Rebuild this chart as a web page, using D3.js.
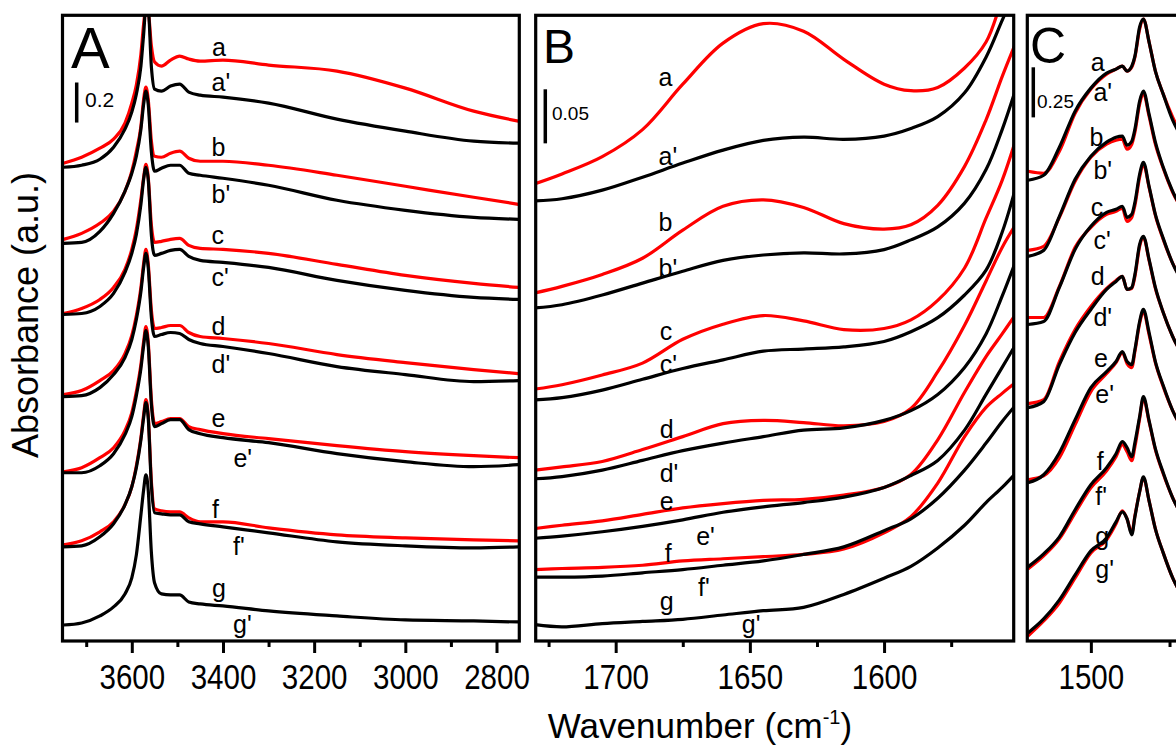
<!DOCTYPE html>
<html>
<head>
<meta charset="utf-8">
<script src="https://cdn.jsdelivr.net/npm/d3@7"></script>
<style>
  body { margin: 0; background: #fff; }
  svg text { font-family: "Liberation Sans", Arial, sans-serif; fill: #000; }
  .tick line { stroke: #000; stroke-width: 3; }
  .tick text { font-size: 36px; }
  .domain { display: none; }
</style>
</head>
<body>
<div id="chart"></div>
<script>
// wavenumbers (cm-1) sampled for each panel
var wnA = [3750, 3710, 3670, 3640, 3615, 3600, 3590, 3580, 3574, 3569, 3564, 3557, 3550, 3535, 3515, 3495, 3475, 3450, 3400, 3300, 3150, 3000, 2850, 2752];
var wnB = [1730, 1720, 1705, 1690, 1675, 1660, 1645, 1630, 1615, 1600, 1590, 1580, 1570, 1562, 1556, 1551];
var wnC = [1520, 1515, 1510, 1505, 1500, 1495, 1492, 1490, 1488.5, 1487, 1486, 1484.5, 1483.3, 1481.5, 1479.5, 1477, 1474, 1470];

// panel A, absorbance (stacked)
var A_a  = [2.39, 2.42, 2.465, 2.51, 2.59, 2.69, 2.78, 2.935, 3.085, 3.17, 3.15, 2.975, 2.895, 2.875, 2.905, 2.925, 2.91, 2.90, 2.905, 2.88, 2.85, 2.765, 2.65, 2.60];
var A_a1 = [2.37, 2.38, 2.41, 2.47, 2.56, 2.645, 2.735, 2.875, 3.035, 3.17, 3.16, 2.87, 2.76, 2.75, 2.775, 2.785, 2.745, 2.73, 2.72, 2.69, 2.61, 2.55, 2.50, 2.49];
var A_b  = [2.01, 2.04, 2.09, 2.15, 2.25, 2.35, 2.45, 2.575, 2.71, 2.77, 2.71, 2.50, 2.425, 2.42, 2.44, 2.45, 2.415, 2.40, 2.40, 2.38, 2.33, 2.275, 2.22, 2.185];
var A_b1 = [1.99, 1.995, 2.05, 2.14, 2.25, 2.34, 2.425, 2.56, 2.685, 2.75, 2.685, 2.445, 2.35, 2.365, 2.38, 2.38, 2.34, 2.33, 2.315, 2.28, 2.205, 2.155, 2.12, 2.11];
var A_c  = [1.64, 1.665, 1.71, 1.77, 1.86, 1.96, 2.06, 2.21, 2.32, 2.385, 2.32, 2.08, 1.995, 2.00, 2.01, 2.015, 1.98, 1.965, 1.96, 1.94, 1.885, 1.83, 1.79, 1.77];
var A_c1 = [1.635, 1.64, 1.675, 1.74, 1.845, 1.94, 2.035, 2.185, 2.31, 2.37, 2.31, 2.03, 1.93, 1.94, 1.955, 1.96, 1.925, 1.905, 1.895, 1.87, 1.805, 1.755, 1.72, 1.71];
var A_d  = [1.235, 1.255, 1.305, 1.355, 1.44, 1.53, 1.63, 1.77, 1.89, 1.96, 1.89, 1.655, 1.565, 1.57, 1.58, 1.58, 1.545, 1.525, 1.515, 1.49, 1.435, 1.395, 1.36, 1.34];
var A_d1 = [1.225, 1.23, 1.27, 1.335, 1.42, 1.51, 1.61, 1.75, 1.87, 1.94, 1.87, 1.62, 1.525, 1.535, 1.545, 1.54, 1.51, 1.49, 1.475, 1.44, 1.375, 1.335, 1.30, 1.305];
var A_e  = [0.85, 0.87, 0.92, 0.97, 1.055, 1.145, 1.25, 1.385, 1.50, 1.575, 1.50, 1.21, 1.09, 1.10, 1.115, 1.115, 1.075, 1.06, 1.04, 1.015, 0.98, 0.95, 0.93, 0.92];
var A_e1 = [0.845, 0.845, 0.88, 0.94, 1.035, 1.125, 1.23, 1.365, 1.48, 1.555, 1.48, 1.185, 1.075, 1.09, 1.11, 1.11, 1.06, 1.04, 1.02, 0.995, 0.94, 0.90, 0.875, 0.885];
var A_f  = [0.485, 0.505, 0.55, 0.60, 0.685, 0.775, 0.88, 1.02, 1.135, 1.21, 1.135, 0.80, 0.665, 0.655, 0.65, 0.65, 0.62, 0.60, 0.60, 0.57, 0.535, 0.52, 0.51, 0.505];
var A_f1 = [0.475, 0.48, 0.525, 0.59, 0.685, 0.775, 0.87, 1.01, 1.12, 1.195, 1.12, 0.78, 0.645, 0.64, 0.635, 0.635, 0.60, 0.59, 0.575, 0.545, 0.50, 0.48, 0.47, 0.475];
var A_g1 = [0.085, 0.095, 0.13, 0.175, 0.24, 0.32, 0.435, 0.635, 0.76, 0.835, 0.76, 0.445, 0.295, 0.24, 0.235, 0.235, 0.20, 0.19, 0.18, 0.155, 0.13, 0.11, 0.105, 0.10];

// panel B
var B_a  = [0.424, 0.433, 0.449, 0.474, 0.516, 0.554, 0.572, 0.565, 0.539, 0.516, 0.510, 0.513, 0.531, 0.555, 0.594, 0.622];
var B_a1 = [0.408, 0.410, 0.418, 0.430, 0.443, 0.455, 0.464, 0.467, 0.465, 0.468, 0.475, 0.486, 0.508, 0.541, 0.575, 0.603];
var B_b  = [0.323, 0.329, 0.340, 0.355, 0.381, 0.403, 0.409, 0.402, 0.387, 0.382, 0.386, 0.404, 0.440, 0.483, 0.523, 0.554];
var B_b1 = [0.309, 0.312, 0.321, 0.332, 0.343, 0.353, 0.358, 0.360, 0.359, 0.363, 0.372, 0.384, 0.406, 0.437, 0.474, 0.511];
var B_c  = [0.234, 0.238, 0.247, 0.258, 0.280, 0.294, 0.302, 0.297, 0.289, 0.290, 0.298, 0.316, 0.346, 0.392, 0.427, 0.464];
var B_c1 = [0.224, 0.226, 0.233, 0.243, 0.253, 0.261, 0.269, 0.271, 0.273, 0.278, 0.287, 0.300, 0.321, 0.344, 0.379, 0.420];
var B_d  = [0.159, 0.162, 0.167, 0.178, 0.190, 0.202, 0.205, 0.203, 0.200, 0.204, 0.216, 0.250, 0.293, 0.334, 0.365, 0.386];
var B_d1 = [0.151, 0.153, 0.159, 0.168, 0.177, 0.184, 0.190, 0.196, 0.198, 0.205, 0.214, 0.229, 0.254, 0.285, 0.320, 0.352];
var B_e  = [0.105, 0.108, 0.112, 0.118, 0.124, 0.128, 0.131, 0.132, 0.136, 0.143, 0.155, 0.187, 0.231, 0.264, 0.285, 0.303];
var B_e1 = [0.096, 0.098, 0.102, 0.107, 0.113, 0.120, 0.125, 0.129, 0.134, 0.143, 0.154, 0.168, 0.196, 0.229, 0.254, 0.275];
var B_f  = [0.067, 0.068, 0.069, 0.071, 0.075, 0.077, 0.079, 0.081, 0.086, 0.101, 0.116, 0.147, 0.190, 0.217, 0.230, 0.240];
var B_f1 = [0.060, 0.060, 0.061, 0.064, 0.067, 0.071, 0.075, 0.081, 0.088, 0.103, 0.114, 0.133, 0.159, 0.184, 0.204, 0.219];
var B_g1 = [0.016, 0.014, 0.017, 0.019, 0.021, 0.025, 0.029, 0.032, 0.044, 0.059, 0.070, 0.087, 0.108, 0.129, 0.143, 0.156];

// panel C
var C_a  = [2.35, 2.34, 2.45, 2.64, 2.76, 2.835, 2.86, 2.875, 2.85, 2.87, 2.92, 3.06, 3.11, 2.995, 2.85, 2.735, 2.62, 2.50];
var C_a1 = [2.305, 2.33, 2.47, 2.65, 2.765, 2.84, 2.86, 2.875, 2.85, 2.875, 2.925, 3.07, 3.11, 2.995, 2.85, 2.735, 2.605, 2.495];
var C_b  = [1.955, 1.975, 2.12, 2.30, 2.42, 2.485, 2.505, 2.51, 2.46, 2.485, 2.545, 2.685, 2.74, 2.625, 2.485, 2.365, 2.245, 2.135];
var C_b1 = [1.925, 1.955, 2.125, 2.31, 2.425, 2.495, 2.52, 2.525, 2.48, 2.50, 2.56, 2.70, 2.75, 2.635, 2.495, 2.37, 2.25, 2.135];
var C_c  = [1.62, 1.62, 1.775, 1.97, 2.07, 2.135, 2.15, 2.165, 2.10, 2.12, 2.18, 2.32, 2.385, 2.27, 2.13, 2.01, 1.89, 1.785];
var C_c1 = [1.585, 1.60, 1.77, 1.96, 2.075, 2.145, 2.16, 2.175, 2.12, 2.135, 2.195, 2.335, 2.395, 2.275, 2.135, 2.015, 1.89, 1.775];
var C_d  = [1.19, 1.21, 1.40, 1.56, 1.675, 1.765, 1.805, 1.825, 1.76, 1.765, 1.825, 1.975, 2.02, 1.905, 1.765, 1.645, 1.525, 1.41];
var C_d1 = [1.17, 1.20, 1.385, 1.545, 1.66, 1.76, 1.80, 1.825, 1.76, 1.77, 1.835, 1.985, 2.025, 1.91, 1.77, 1.645, 1.525, 1.41];
var C_e  = [0.81, 0.83, 0.92, 1.085, 1.25, 1.34, 1.395, 1.445, 1.39, 1.37, 1.45, 1.59, 1.65, 1.535, 1.395, 1.275, 1.155, 1.04];
var C_e1 = [0.795, 0.835, 0.945, 1.11, 1.27, 1.35, 1.40, 1.45, 1.40, 1.385, 1.46, 1.60, 1.66, 1.545, 1.40, 1.28, 1.155, 1.045];
var C_f  = [0.365, 0.43, 0.515, 0.645, 0.77, 0.855, 0.925, 0.985, 0.95, 0.905, 0.975, 1.115, 1.215, 1.10, 0.96, 0.84, 0.72, 0.605];
var C_f1 = [0.375, 0.44, 0.525, 0.66, 0.785, 0.87, 0.94, 1.00, 0.97, 0.925, 0.995, 1.125, 1.225, 1.105, 0.965, 0.845, 0.72, 0.605];
var C_g  = [0.03, 0.105, 0.195, 0.32, 0.445, 0.51, 0.59, 0.655, 0.615, 0.545, 0.63, 0.75, 0.82, 0.705, 0.565, 0.445, 0.32, 0.205];
var C_g1 = [0.045, 0.115, 0.21, 0.335, 0.455, 0.52, 0.60, 0.65, 0.615, 0.535, 0.625, 0.75, 0.825, 0.705, 0.565, 0.445, 0.32, 0.205];

// curve names and where their labels sit (wavenumber, absorbance)
var curveNames = ["a", "a'", "b", "b'", "c", "c'", "d", "d'", "e", "e'", "f", "f'", "g", "g'"];
var labA_wn  = [3424, 3425, 3425, 3425, 3425, 3425, 3425, 3425, 3425, 3377, 3424, 3378, 3424, 3378];
var labA_abs = [2.925, 2.75, 2.425, 2.19, 1.985, 1.775, 1.535, 1.345, 1.075, 0.875, 0.62, 0.435, 0.225, 0.045];
var labB_wn  = [1684, 1684, 1684, 1684, 1683.6, 1683.6, 1683.6, 1683.6, 1683.6, 1670, 1681.7, 1669.3, 1683.6, 1653];
var labB_abs = [0.514, 0.441, 0.380, 0.338, 0.279, 0.249, 0.189, 0.148, 0.122, 0.090, 0.074, 0.043, 0.030, 0.008];
var labC_wn  = [1500, 1499.2, 1500.4, 1499.2, 1500, 1499.2, 1500, 1499.2, 1499, 1498.6, 1498.1, 1498.6, 1498.6, 1498.6];
var labC_abs = [2.85, 2.70, 2.475, 2.31, 2.125, 1.96, 1.78, 1.575, 1.375, 1.195, 0.86, 0.685, 0.485, 0.32];

// tick values
var majorA = [3600, 3400, 3200, 3000, 2800];
var minorA = [3700, 3500, 3300, 3100, 2900];
var majorB = [1700, 1650, 1600];
var minorB = [1725, 1675, 1625, 1575];
var majorC = [1500];
var minorC = [1475];

// scale bars
var barA = 0.2, barB = 0.05, barC = 0.25;

var svgWidth = 1176;
var svgHeight = 748;
var frameTop = 15.3, frameBottom = 641;

var svg = d3.select("#chart").append("svg")
    .attr("width", svgWidth)
    .attr("height", svgHeight)
    .style("background", "#fff");

var panels = [
    {
        name: "A", left: 62.5, right: 519.3, domain: [3752, 2750], wn: wnA,
        yDomain: [0, 3.13], curve: d3.curveMonotoneX,
        series: [A_a, A_a1, A_b, A_b1, A_c, A_c1, A_d, A_d1, A_e, A_e1, A_f, A_f1, null, A_g1],
        labWn: labA_wn, labAbs: labA_abs, major: majorA, minor: minorA,
        letter: { x: 71, y: 68, size: 58 },
        bar: { v: barA, x: 76.7, y: 82.5, text: "0.2", tx: 85, ty: 107, size: 21 }
    },
    {
        name: "B", left: 535.7, right: 1013.7, domain: [1729.8, 1551.7], wn: wnB,
        yDomain: [0, 0.58], curve: d3.curveCatmullRom.alpha(0.5),
        series: [B_a, B_a1, B_b, B_b1, B_c, B_c1, B_d, B_d1, B_e, B_e1, B_f, B_f1, null, B_g1],
        labWn: labB_wn, labAbs: labB_abs, major: majorB, minor: minorB,
        letter: { x: 543, y: 63, size: 48 },
        bar: { v: barB, x: 545.3, y: 89.3, text: "0.05", tx: 552, ty: 120, size: 19 }
    },
    {
        name: "C", left: 1027.3, right: 1330, domain: [1520.2, 1424], wn: wnC,
        yDomain: [0, 3.13], curve: d3.curveMonotoneX,
        series: [C_a, C_a1, C_b, C_b1, C_c, C_c1, C_d, C_d1, C_e, C_e1, C_f, C_f1, C_g, C_g1],
        labWn: labC_wn, labAbs: labC_abs, major: majorC, minor: minorC,
        letter: { x: 1030, y: 63, size: 50 },
        bar: { v: barC, x: 1033.3, y: 67.3, text: "0.25", tx: 1037, ty: 108, size: 19 }
    }
];

panels.forEach(function (p) {
    var x = d3.scaleLinear().domain(p.domain).range([p.left, p.right]);
    var y = d3.scaleLinear().domain(p.yDomain).range([642, 15]);
    var g = svg.append("g");

    var clipId = "clip" + p.name;
    svg.append("clipPath").attr("id", clipId)
        .append("rect")
        .attr("x", p.left).attr("y", frameTop)
        .attr("width", p.right - p.left).attr("height", frameBottom - frameTop);

    var line = d3.line()
        .x(function (d) { return x(d[0]); })
        .y(function (d) { return y(d[1]); })
        .curve(p.curve);

    var plot = g.append("g").attr("clip-path", "url(#" + clipId + ")");
    p.series.forEach(function (vals, i) {
        if (!vals) return;
        var pts = p.wn.map(function (w, k) { return [w, vals[k]]; });
        plot.append("path")
            .datum(pts)
            .attr("d", line)
            .attr("fill", "none")
            .attr("stroke", i % 2 === 0 ? "#ff0000" : "#000")
            .attr("stroke-width", 3.2)
            .attr("stroke-linejoin", "round");
    });

    // curve labels
    g.selectAll("text.lab")
        .data(curveNames)
        .enter()
        .append("text")
        .attr("class", "lab")
        .attr("x", function (d, i) { return x(p.labWn[i]); })
        .attr("y", function (d, i) { return y(p.labAbs[i]); })
        .attr("font-size", 25)
        .text(function (d) { return d; });

    // scale bar
    var barLen = y(0) - y(p.bar.v);
    g.append("line")
        .attr("x1", p.bar.x).attr("x2", p.bar.x)
        .attr("y1", p.bar.y).attr("y2", p.bar.y + barLen)
        .attr("stroke", "#000").attr("stroke-width", 3.5);
    g.append("text")
        .attr("x", p.bar.tx).attr("y", p.bar.ty)
        .attr("font-size", p.bar.size)
        .text(p.bar.text);

    // panel letter
    g.append("text")
        .attr("x", p.letter.x).attr("y", p.letter.y)
        .attr("font-size", p.letter.size)
        .text(p.name);

    // axes: minor and major ticks below the frame
    g.append("g")
        .attr("transform", "translate(0," + frameBottom + ")")
        .call(d3.axisBottom(x).tickValues(p.minor).tickSize(6).tickFormat(""));
    var ax = g.append("g")
        .attr("transform", "translate(0," + frameBottom + ")")
        .call(d3.axisBottom(x).tickValues(p.major).tickSize(12).tickPadding(10).tickFormat(d3.format("d")));
    // narrow digits, as in the original figure
    ax.selectAll(".tick text").attr("transform", "scale(0.82,1)");

    // frame
    g.append("rect")
        .attr("x", p.left).attr("y", frameTop)
        .attr("width", p.right - p.left).attr("height", frameBottom - frameTop)
        .attr("fill", "none").attr("stroke", "#000").attr("stroke-width", 3.2);
});

// axis titles
var xt = svg.append("text")
    .attr("x", 700)
    .attr("y", 738)
    .attr("text-anchor", "middle")
    .attr("font-size", 35);
xt.append("tspan").text("Wavenumber (cm");
xt.append("tspan").attr("font-size", 20).attr("dy", -14).text("-1");
xt.append("tspan").attr("dy", 14).text(")");

svg.append("text")
    .attr("transform", "translate(38,315) rotate(-90)")
    .attr("text-anchor", "middle")
    .attr("font-size", 36)
    .text("Absorbance (a.u.)");
</script>
</body>
</html>
